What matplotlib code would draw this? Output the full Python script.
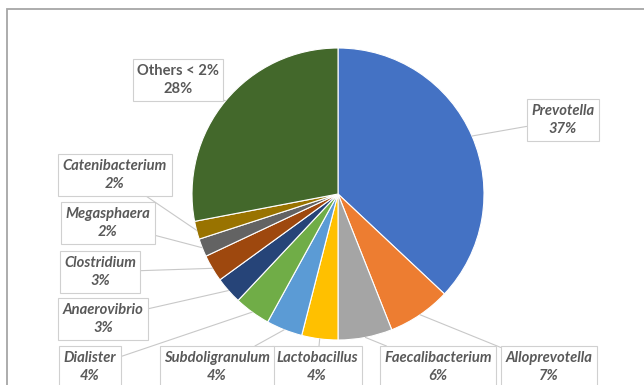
import numpy as np
import matplotlib
matplotlib.use("Agg")
import matplotlib.pyplot as plt
from matplotlib.patches import Rectangle

# genus shares, clockwise from 12 o'clock
genera = ["Prevotella", "Alloprevotella", "Faecalibacterium", "Lactobacillus",
          "Subdoligranulum", "Dialister", "Anaerovibrio", "Clostridium",
          "Megasphaera", "Catenibacterium", "Others < 2%"]
shares = [37, 7, 6, 4, 4, 4, 3, 3, 2, 2, 28]
colors = ["#4472C4", "#ED7D31", "#A5A5A5", "#FFC000", "#5B9BD5", "#70AD47",
          "#264478", "#9E480E", "#636363", "#997300", "#43682B"]

# label box centres in figure pixels (x from left, y from top)
label_px = [(563, 120), (549, 367), (438, 367), (317, 367), (217, 367),
            (90, 367), (103, 319), (100, 272), (108, 223), (115, 175), (178, 80)]

W, H = 644, 385
cx, cy, r = 338, 194, 146

fig = plt.figure(figsize=(W / 100, H / 100), dpi=100)
fig.patches.append(Rectangle((7 / W, -0.1), 1.0, 1 - 9 / H + 0.1,
                             transform=fig.transFigure, fill=False,
                             edgecolor="#a6a6a6", linewidth=1.3))

ax = fig.add_axes([(cx - r) / W, (H - cy - r) / H, 2 * r / W, 2 * r / H])
wedges, _ = ax.pie(shares, colors=colors, startangle=90, counterclock=False,
                   radius=1.0, wedgeprops=dict(edgecolor="white", linewidth=0.8))
ax.set_xlim(-1, 1)
ax.set_ylim(-1, 1)
ax.set_aspect("equal")
ax.axis("off")

for w, name, val, (px, py) in zip(wedges, genera, shares, label_px):
    mid = np.deg2rad((w.theta1 + w.theta2) / 2)
    xy = (np.cos(mid), np.sin(mid))
    tx, ty = (px - cx) / r, (cy - py) / r
    style = "normal" if name.startswith("Others") else "italic"
    ax.annotate(f"{name}\n{val}%", xy=xy, xytext=(tx, ty),
                ha="center", va="center", fontsize=10.6, fontweight="bold",
                fontstyle=style, color="#595959", family=["Lato", "DejaVu Sans"],
                linespacing=1.4, annotation_clip=False,
                bbox=dict(boxstyle="square,pad=0.3", fc="white", ec="#d0d0d0", lw=0.8),
                arrowprops=dict(arrowstyle="-", color="#c8c8c8", lw=0.8,
                                shrinkA=0, shrinkB=0))

fig.savefig("out.png", dpi=100)
